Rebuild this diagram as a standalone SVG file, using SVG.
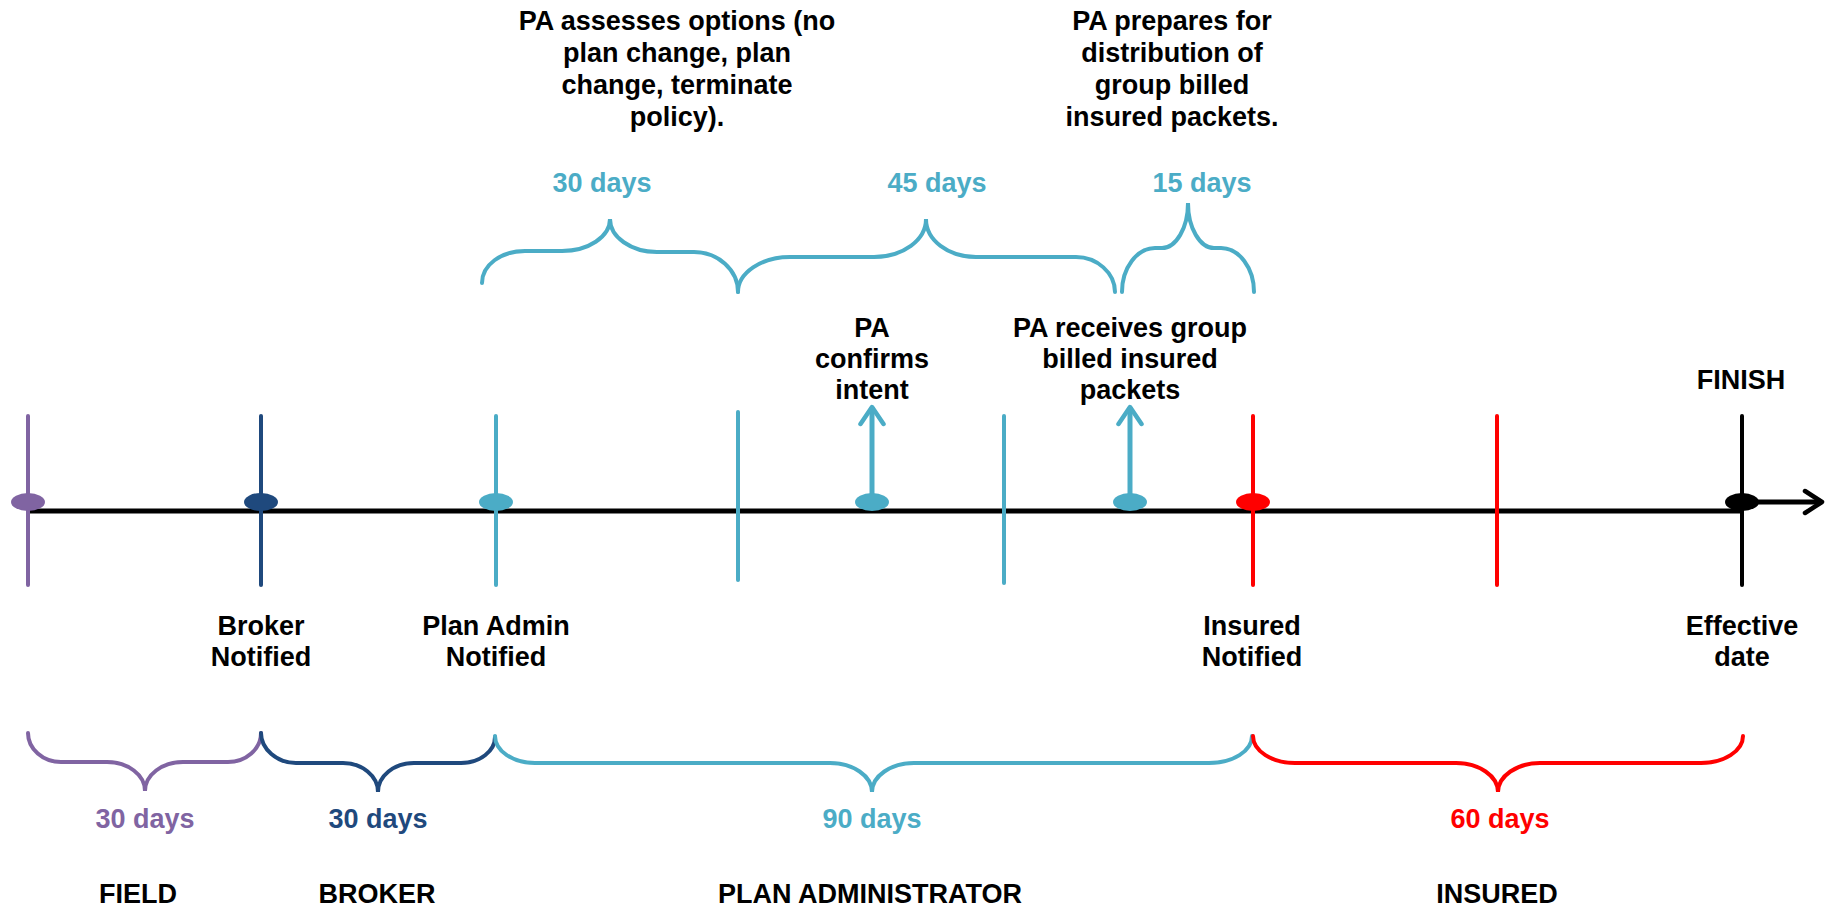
<svg xmlns="http://www.w3.org/2000/svg" width="1830" height="907" viewBox="0 0 1830 907">
<style>
text{font-family:"Liberation Sans",Arial,sans-serif;font-weight:bold;font-size:27px;text-anchor:middle;fill:#000}
.pu{fill:#8064A2}.nv{fill:#1F497D}.cy{fill:#4BACC6}.rd{fill:#FF0000}
.br{fill:none;stroke-width:4;stroke-linecap:round}
.tick{stroke-width:4;stroke-linecap:round}
</style>
<defs>
<marker id="ahc" viewBox="0 0 26 28" refX="22" refY="14" markerWidth="26" markerHeight="28" markerUnits="userSpaceOnUse" orient="auto">
<path d="M5,2.5 L22,14 L5,25.5" fill="none" stroke="#4BACC6" stroke-width="4.5" stroke-linecap="round" stroke-linejoin="round"/>
</marker>
<marker id="ahk" viewBox="0 0 26 28" refX="22" refY="14" markerWidth="26" markerHeight="28" markerUnits="userSpaceOnUse" orient="auto">
<path d="M5,3 L22,14 L5,25" fill="none" stroke="#000" stroke-width="4.5" stroke-linecap="round" stroke-linejoin="round"/>
</marker>
</defs>

<g id="connectors">
<line x1="30" y1="511" x2="1742" y2="511" stroke="#000" stroke-width="5"/>
<line x1="1742" y1="502" x2="1822" y2="502" stroke="#000" stroke-width="5" marker-end="url(#ahk)"/>
<line x1="872" y1="502" x2="872" y2="407" stroke="#4BACC6" stroke-width="5" marker-end="url(#ahc)"/>
<line x1="1130" y1="502" x2="1130" y2="407" stroke="#4BACC6" stroke-width="5" marker-end="url(#ahc)"/>
</g>

<g id="ticks">
<line class="tick" x1="28" y1="416" x2="28" y2="585" stroke="#8064A2"/>
<line class="tick" x1="261" y1="416" x2="261" y2="585" stroke="#1F497D"/>
<line class="tick" x1="496" y1="416" x2="496" y2="585" stroke="#4BACC6"/>
<line class="tick" x1="738" y1="412" x2="738" y2="580" stroke="#4BACC6"/>
<line class="tick" x1="1004" y1="416" x2="1004" y2="583" stroke="#4BACC6"/>
<line class="tick" x1="1253" y1="416" x2="1253" y2="585" stroke="#FF0000"/>
<line class="tick" x1="1497" y1="416" x2="1497" y2="585" stroke="#FF0000"/>
<line class="tick" x1="1742" y1="416" x2="1742" y2="585" stroke="#000"/>
</g>

<g id="node-field"><ellipse cx="28" cy="502" rx="17" ry="9" fill="#8064A2"/></g>
<g id="node-broker"><ellipse cx="261" cy="502" rx="17" ry="9" fill="#1F497D"/>
<text x="261" y="635">Broker</text><text x="261" y="666">Notified</text></g>
<g id="node-planadmin"><ellipse cx="496" cy="502" rx="17" ry="9" fill="#4BACC6"/>
<text x="496" y="635">Plan Admin</text><text x="496" y="666">Notified</text></g>
<g id="node-confirms"><ellipse cx="872" cy="502" rx="17" ry="9" fill="#4BACC6"/>
<text x="872" y="337">PA</text><text x="872" y="368">confirms</text><text x="872" y="399">intent</text></g>
<g id="node-receives"><ellipse cx="1130" cy="502" rx="17" ry="9" fill="#4BACC6"/>
<text x="1130" y="337">PA receives group</text><text x="1130" y="368">billed insured</text><text x="1130" y="399">packets</text></g>
<g id="node-insured"><ellipse cx="1253" cy="502" rx="17" ry="9" fill="#FF0000"/>
<text x="1252" y="635">Insured</text><text x="1252" y="666">Notified</text></g>
<g id="node-finish"><ellipse cx="1742" cy="502" rx="17" ry="9" fill="#000"/>
<text x="1741" y="389">FINISH</text>
<text x="1742" y="635">Effective</text><text x="1742" y="666">date</text></g>

<g id="top-notes">
<text x="677" y="30">PA assesses options (no</text>
<text x="677" y="62">plan change, plan</text>
<text x="677" y="94">change, terminate</text>
<text x="677" y="126">policy).</text>
<text x="1172" y="30">PA prepares for</text>
<text x="1172" y="62">distribution of</text>
<text x="1172" y="94">group billed</text>
<text x="1172" y="126">insured packets.</text>
</g>

<g id="top-braces">
<path class="br" stroke="#4BACC6" d="M482,283 C482,265 501,251 525,251 L562,251 C588,251 610,237 610,219 C610,237 631,252 657,252 L694,252 C718,252 738,270 738,292"/>
<path class="br" stroke="#4BACC6" d="M738,292 C738,273 761,257 790,257 L874,257 C903,257 926,240 926,219 C926,240 948,257 976,257 L1076,257 C1097,257 1115,273 1115,292"/>
<path class="br" stroke="#4BACC6" d="M1122,292 C1122,268 1137,248 1155,248 L1162,248 C1176,248 1188,228 1188,203 C1188,228 1200,248 1214,248 L1221,248 C1239,248 1254,268 1254,292"/>
<text class="cy" x="602" y="192">30 days</text>
<text class="cy" x="937" y="192">45 days</text>
<text class="cy" x="1202" y="192">15 days</text>
</g>

<g id="bottom-braces">
<path class="br" stroke="#8064A2" d="M28,733 C28,749 43,762 61,762 L107,762 C128,762 145,775 145,791 C145,775 162,762 183,762 L228,762 C246,762 261,749 261,733"/>
<path class="br" stroke="#1F497D" d="M261,733 C261,749 277,763 296,763 L343,763 C362,763 378,776 378,792 C378,776 394,763 414,763 L461,763 C480,763 495,751 495,737"/>
<path class="br" stroke="#4BACC6" d="M495,736 C495,751 513,763 535,763 L830,763 C853,763 872,776 872,792 C872,776 891,763 914,763 L1209,763 C1233,763 1252,751 1252,736"/>
<path class="br" stroke="#FF0000" d="M1253,736 C1253,751 1272,763 1295,763 L1456,763 C1479,763 1498,776 1498,792 C1498,776 1517,763 1540,763 L1701,763 C1724,763 1743,751 1743,736"/>
<text class="pu" x="145" y="828">30 days</text>
<text class="nv" x="378" y="828">30 days</text>
<text class="cy" x="872" y="828">90 days</text>
<text class="rd" x="1500" y="828">60 days</text>
</g>

<g id="phases">
<text x="138" y="903">FIELD</text>
<text x="377" y="903">BROKER</text>
<text x="870" y="903">PLAN ADMINISTRATOR</text>
<text x="1497" y="903">INSURED</text>
</g>
</svg>
